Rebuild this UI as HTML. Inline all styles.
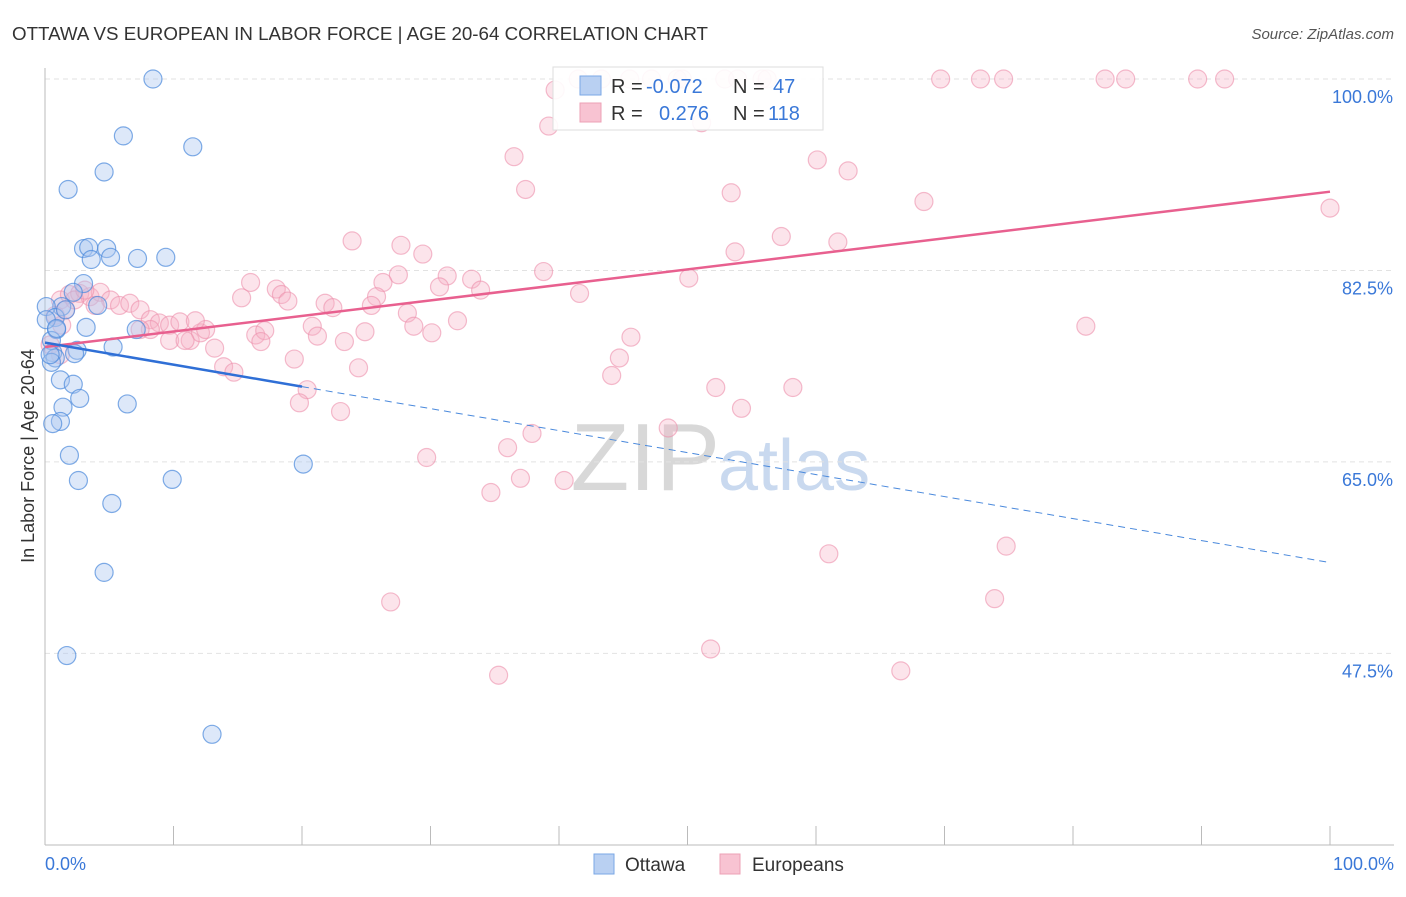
<!DOCTYPE html>
<html><head><meta charset="utf-8"><style>
body{margin:0;background:#fff;font-family:"Liberation Sans",sans-serif;}
svg text{font-family:"Liberation Sans",sans-serif;}
</style></head><body>
<svg id="c" width="1406" height="892">
<text x="12" y="40" font-size="18" fill="#333" textLength="696" lengthAdjust="spacingAndGlyphs">OTTAWA VS EUROPEAN IN LABOR FORCE | AGE 20-64 CORRELATION CHART</text>
<text x="1394" y="39" font-size="15" fill="#555" font-style="italic" text-anchor="end">Source: ZipAtlas.com</text>
<text x="720" y="490" font-size="96" fill="#d8d8d8" text-anchor="end" font-family="Liberation Serif">ZIP</text>
<text x="718" y="490" font-size="72" fill="#c9d9ef">atlas</text>
<g id="grid"></g><g id="marks"></g><g id="trend"></g>
<text transform="translate(34,456) rotate(-90)" font-size="18" fill="#333" text-anchor="middle">In Labor Force | Age 20-64</text>
<rect x="553" y="67" width="270" height="63" fill="#fff" fill-opacity="0.9" stroke="#ddd"/>
<rect x="580" y="76" width="21" height="19" fill="#b9d0f2" stroke="#7aa7e6"/>
<rect x="580" y="103" width="21" height="19" fill="#f8c3d2" stroke="#eda0b6"/>
<text font-size="20" y="93"><tspan x="611" fill="#333">R = </tspan><tspan x="646" fill="#3a78d8">-0.072</tspan><tspan x="733" fill="#333">N = </tspan><tspan x="773" fill="#3a78d8">47</tspan></text>
<text font-size="20" y="120"><tspan x="611" fill="#333">R = </tspan><tspan x="659" fill="#3a78d8">0.276</tspan><tspan x="733" fill="#333">N = </tspan><tspan x="768" fill="#3a78d8">118</tspan></text>
<rect x="594" y="854" width="20" height="20" fill="#b9d0f2" stroke="#7aa7e6"/>
<text x="625" y="871" font-size="19" fill="#333">Ottawa</text>
<rect x="720" y="854" width="20" height="20" fill="#f8c3d2" stroke="#eda0b6"/>
<text x="752" y="871" font-size="19" fill="#333">Europeans</text>
</svg>
<script>
const yTicks=[100,82.5,65,47.5];
const yTickLabels=["100.0%","82.5%","65.0%","47.5%"];
const xTickLabels=["0.0%","100.0%"];
const blueX=[8.4,6.1,11.5,4.6,1.8,3.0,3.4,4.8,3.6,5.1,7.2,9.4,3.0,2.2,1.3,4.1,0.1,0.8,1.6,3.2,0.9,7.1,5.3,2.5,2.3,0.6,0.8,0.5,1.2,2.2,2.7,1.4,6.4,1.2,0.6,1.9,2.6,9.9,20.1,5.2,4.6,1.7,13.0,0.1,0.5,0.4,0.9];
const blueY=[100,94.8,93.8,91.5,89.9,84.5,84.6,84.5,83.5,83.7,83.6,83.7,81.3,80.5,79.2,79.3,79.2,78.2,78.9,77.3,77.1,77.1,75.5,75.2,74.9,75.0,74.5,74.1,72.5,72.1,70.8,70.0,70.3,68.7,68.5,65.6,63.3,63.4,64.8,61.2,54.9,47.3,40.1,78.0,76.1,74.8,77.2];
const pinkX=[41.5,43.3,45.5,47.2,49.2,49.6,52.9,53.9,55.8,56.2,69.7,72.8,74.6,82.5,84.1,89.7,91.8,39.7,39.2,51.1,36.5,37.4,60.1,62.5,53.4,68.4,100,23.9,27.7,29.4,57.3,61.7,53.7,38.8,31.3,33.2,27.5,26.3,30.7,33.9,50.1,41.6,16.0,18.0,18.4,18.9,15.3,25.8,21.8,22.4,25.4,28.2,32.1,30.1,28.7,24.9,20.8,21.2,23.3,81.0,45.6,16.4,17.1,16.8,44.7,13.2,19.4,13.9,14.7,24.4,44.1,52.2,58.2,20.4,19.8,23.0,54.2,48.5,37.9,36.0,29.7,34.7,37.0,40.4,61.0,74.8,26.9,73.9,51.8,35.3,66.6,1.2,1.9,2.7,3.5,4.3,5.1,5.8,6.6,7.4,8.2,8.9,9.7,10.5,11.3,12.1,12.5,11.7,8.2,7.4,0.8,1.3,0.4,1.2,1.6,2.3,3.1,3.9,9.7,10.9];
const pinkY=[100,100,100,100,100,100,100,100,100,100,100,100,100,100,100,100,100,99.0,95.7,96.0,92.9,89.9,92.6,91.6,89.6,88.8,88.2,85.2,84.8,84.0,85.6,85.1,84.2,82.4,82.0,81.7,82.1,81.4,81.0,80.7,81.8,80.4,81.4,80.8,80.3,79.7,80.0,80.1,79.5,79.1,79.3,78.6,77.9,76.8,77.4,76.9,77.4,76.5,76.0,77.4,76.4,76.6,77.0,76.0,74.5,75.4,74.4,73.7,73.2,73.6,72.9,71.8,71.8,71.6,70.4,69.6,69.9,68.1,67.6,66.3,65.4,62.2,63.5,63.3,56.6,57.3,52.2,52.5,47.9,45.5,45.9,79.8,80.3,80.4,80.1,80.5,79.8,79.3,79.5,78.9,78.0,77.7,77.5,77.8,76.1,76.8,77.1,77.9,77.1,77.1,78.4,77.5,75.7,74.8,78.9,79.8,80.7,79.3,76.1,76.1];
const blueTrend=[75.9,55.8];
const pinkTrend=[75.5,89.7];
const NS="http://www.w3.org/2000/svg";
const X=v=>45+v*12.85, Y=v=>79+(100-v)*10.94;
function mk(tag,attrs,parent){const e=document.createElementNS(NS,tag);for(const k in attrs)e.setAttribute(k,attrs[k]);document.getElementById(parent).appendChild(e);return e;}
yTicks.forEach((t,i)=>{
 const l=mk('line',{x1:45,x2:1394,y1:Y(t),y2:Y(t),stroke:'#e2e2e2','stroke-dasharray':'5,4'},'grid');
 
 
 const tx=mk('text',{x:1393,y:Y(t)+24,'font-size':18,fill:'#3a78d8','text-anchor':'end'},'grid');tx.textContent=yTickLabels[i];
 
 
});
const ax=mk('line',{x1:45,x2:45,y1:68,y2:845,stroke:'#bbb'},'grid');


const bx=mk('line',{x1:45,x2:1394,y1:845,y2:845,stroke:'#bbb'},'grid');


for(let i=0;i<=10;i++){const t=mk('line',{x1:X(i*10),x2:X(i*10),y1:826,y2:845,stroke:'#bbb'},'grid');
 
 }
[[0,'start',45],[100,'end',1394]].forEach((d,i)=>{const t=mk('text',{x:d[2],y:870,'font-size':18,fill:'#3a78d8','text-anchor':d[1]},'grid');t.textContent=xTickLabels[i];
 
 });
pinkX.forEach((x,i)=>{const c=mk('circle',{cx:X(x),cy:Y(pinkY[i]),r:9,fill:'#f5b3c6','fill-opacity':0.35,stroke:'#ec8fab','stroke-opacity':0.6,'stroke-width':1.2},'marks');
 
 });
blueX.forEach((x,i)=>{const c=mk('circle',{cx:X(x),cy:Y(blueY[i]),r:9,fill:'#a9c6ef','fill-opacity':0.4,stroke:'#4a89dc','stroke-opacity':0.7,'stroke-width':1.2},'marks');
 
 });
const bAt=x=>blueTrend[0]+(blueTrend[1]-blueTrend[0])*x/100;
const pl=mk('line',{x1:X(0),y1:Y(pinkTrend[0]),x2:X(100),y2:Y(pinkTrend[1]),stroke:'#e8608f','stroke-width':2.5},'trend');


const bl=mk('line',{x1:X(0),y1:Y(bAt(0)),x2:X(20),y2:Y(bAt(20)),stroke:'#2f6fd6','stroke-width':2.5},'trend');


const bd=mk('line',{x1:X(20),y1:Y(bAt(20)),x2:X(100),y2:Y(bAt(100)),stroke:'#4a89dc','stroke-width':1,'stroke-dasharray':'7,5'},'trend');


</script>
</body></html>
